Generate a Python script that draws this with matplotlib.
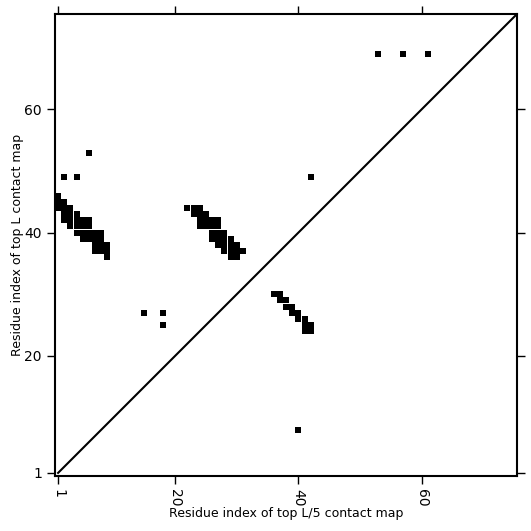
import numpy as np
import matplotlib
matplotlib.use("Agg")
import matplotlib.pyplot as plt

seq_len = 75
tick_vals = [1, 20, 40, 60]
tick_labels = ["1", "20", "40", "60"]

# contacts as (i, j) residue pairs
band_a = [(1, 44), (1, 45), (1, 46),
          (2, 42), (2, 43), (2, 44), (2, 45),
          (3, 41), (3, 42), (3, 43), (3, 44),
          (4, 40), (4, 41), (4, 42), (4, 43),
          (5, 39), (5, 40), (5, 41), (5, 42),
          (6, 39), (6, 40), (6, 41), (6, 42),
          (7, 37), (7, 38), (7, 39), (7, 40),
          (8, 37), (8, 38), (8, 39), (8, 40),
          (9, 36), (9, 37), (9, 38)]
band_b = [(22, 44), (23, 44), (24, 44),
          (23, 43), (24, 43), (25, 43),
          (24, 42), (25, 42), (26, 42), (27, 42),
          (24, 41), (25, 41), (26, 41), (27, 41),
          (26, 40), (27, 40), (28, 40),
          (26, 39), (27, 39), (28, 39), (29, 39),
          (27, 38), (28, 38), (29, 38), (30, 38),
          (28, 37), (29, 37), (30, 37), (31, 37),
          (29, 36), (30, 36)]
band_c = [(36, 30), (37, 30), (37, 29), (38, 29), (38, 28), (39, 28),
          (39, 27), (40, 27), (40, 26), (41, 26), (41, 25), (42, 25),
          (41, 24), (42, 24)]
singles = [(2, 49), (4, 49), (6, 53), (15, 27), (18, 27), (18, 25),
           (40, 8), (42, 49), (53, 69), (57, 69), (61, 69)]

contacts = np.array(band_a + band_b + band_c + singles)

fig = plt.figure(figsize=(5.31, 5.31), dpi=100)
ax = fig.add_axes([0.1036, 0.1036, 0.8701, 0.8701])

ax.plot(contacts[:, 0], contacts[:, 1], 's', color='black', ms=4.45, mew=0)
ax.plot([1, seq_len + 5], [1, seq_len + 5], color='black', lw=1.5)

ax.set_xlim(0.5, seq_len + 0.5)
ax.set_ylim(0.5, seq_len + 0.5)
ax.set_xticks(tick_vals)
ax.set_xticklabels(tick_labels, rotation=270)
ax.set_yticks(tick_vals)
ax.set_yticklabels(tick_labels)
ax.tick_params(direction='out', length=6, width=1, top=True, right=True,
               labelsize=10)
for s in ax.spines.values():
    s.set_linewidth(1.5)

ax.set_xlabel("Residue index of top L/5 contact map", fontsize=9, labelpad=0)
ax.set_ylabel("Residue index of top L contact map", fontsize=9, labelpad=0)

fig.savefig("out.png", dpi=100)
